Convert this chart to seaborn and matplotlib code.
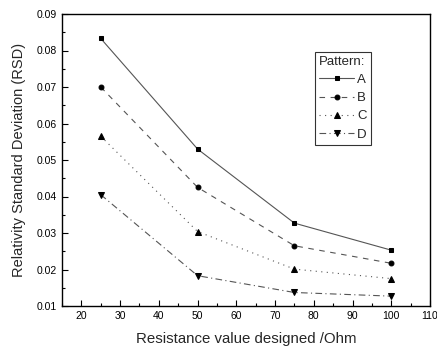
import matplotlib
matplotlib.use("Agg")
import matplotlib.pyplot as plt
import seaborn as sns
import pandas as pd
from matplotlib.ticker import MultipleLocator

resistance = [25, 50, 75, 100]
rsd_a = [0.0833, 0.0530, 0.0327, 0.0253]
rsd_b = [0.0700, 0.0425, 0.0265, 0.0217]
rsd_c = [0.0565, 0.0304, 0.0201, 0.0175]
rsd_d = [0.0405, 0.0183, 0.0137, 0.0127]
patterns = ["A", "B", "C", "D"]

df = pd.DataFrame({
    "resistance": resistance * 4,
    "rsd": rsd_a + rsd_b + rsd_c + rsd_d,
    "pattern": [p for p in patterns for _ in resistance],
})

sns.set_style("white")
plt.rcParams["font.family"] = ["Liberation Sans", "DejaVu Sans"]

fig = plt.figure(figsize=(4.37, 3.47), dpi=100)
ax = fig.add_axes([62 / 437, 41 / 347, 368 / 437, 292 / 347])

styles = {
    "A": ("-", "s", 3.5),
    "B": ((0, (5, 5)), "o", 3.5),
    "C": ((0, (1, 4)), "^", 4.5),
    "D": ((0, (6, 3, 1, 3)), "v", 4.5),
}

for p in patterns:
    ls, mk, ms = styles[p]
    sub = df[df["pattern"] == p]
    sns.lineplot(data=sub, x="resistance", y="rsd", ax=ax, color="#555555",
                 linewidth=0.8, linestyle=ls, marker=mk, markersize=ms,
                 markerfacecolor="black", markeredgecolor="black", label=p)

ax.set_xlim(15, 110)
ax.set_ylim(0.01, 0.09)
ax.xaxis.set_major_locator(MultipleLocator(10))
ax.xaxis.set_minor_locator(MultipleLocator(5))
ax.yaxis.set_major_locator(MultipleLocator(0.01))
ax.yaxis.set_minor_locator(MultipleLocator(0.005))
ax.set_xticks([20, 30, 40, 50, 60, 70, 80, 90, 100, 110])
ax.set_xticklabels(["20", "30", "40", "50", "60", "70", "80", "90", "100", "110"])
ax.set_yticklabels([f"{v:.2f}" for v in ax.get_yticks()])
ax.tick_params(which="both", direction="in", top=False, right=False,
               bottom=True, left=True, labelsize=7.5, colors="black")
ax.tick_params(which="major", length=4, width=0.8)
ax.tick_params(which="minor", length=2, width=0.8)
for s in ax.spines.values():
    s.set_color("black")
    s.set_linewidth(1)

ax.set_xlabel("Resistance value designed /Ohm", fontsize=10.8, labelpad=8)
ax.set_ylabel("Relativity Standard Deviation (RSD)", fontsize=10.5, labelpad=8)

leg = ax.legend(title="Pattern:", loc="upper left", bbox_to_anchor=(0.687, 0.87),
                borderaxespad=0, fontsize=9.5, title_fontsize=9.5, frameon=True,
                fancybox=False, edgecolor="black", handlelength=2.7,
                handletextpad=0.2, borderpad=0.3, labelspacing=0.45,
                markerfirst=True)
leg.get_frame().set_linewidth(0.8)
leg._legend_box.align = "left"

fig.savefig("out.png", dpi=100)
